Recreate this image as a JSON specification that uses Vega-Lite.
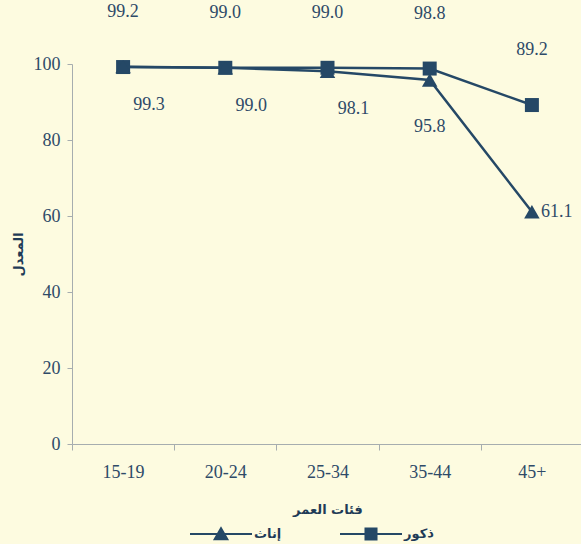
{
  "$schema": "https://vega.github.io/schema/vega-lite/v6.json",
  "autosize": {"type": "none"},
  "padding": {"left": 72, "top": 64, "right": 0, "bottom": 100},
  "width": 511,
  "height": 380,
  "background": "#FDFBE0",
  "config": {"view": {"stroke": null}},
  "data": {"values": [
    {"age": "15-19", "sex": "ذكور", "value": 99.2},
    {"age": "20-24", "sex": "ذكور", "value": 99.0},
    {"age": "25-34", "sex": "ذكور", "value": 99.0},
    {"age": "35-44", "sex": "ذكور", "value": 98.8},
    {"age": "45+", "sex": "ذكور", "value": 89.2},
    {"age": "15-19", "sex": "إناث", "value": 99.3},
    {"age": "20-24", "sex": "إناث", "value": 99.0},
    {"age": "25-34", "sex": "إناث", "value": 98.1},
    {"age": "35-44", "sex": "إناث", "value": 95.8},
    {"age": "45+", "sex": "إناث", "value": 61.1}
  ]},
  "encoding": {
    "x": {"field": "age", "type": "nominal", "sort": null,
      "scale": {"type": "band", "paddingInner": 0, "paddingOuter": 0},
      "axis": {"labelAngle": 0, "tickBand": "extent", "domainColor": "#A6ADAF", "tickColor": "#A6ADAF", "tickSize": 6,
        "labelFont": "Liberation Serif", "labelFontSize": 18, "labelColor": "#2E4A68", "labelPadding": 13,
        "title": "فئات العمر", "titleFont": "DejaVu Sans", "titleFontWeight": "bold", "titleFontSize": 13, "titleColor": "#1F3B57",
        "titleY": 65, "titleBaseline": "middle"}},
    "y": {"field": "value", "type": "quantitative",
      "scale": {"domain": [0, 100], "nice": false},
      "axis": {"values": [0, 20, 40, 60, 80, 100], "grid": false, "domainColor": "#A6ADAF", "tickColor": "#A6ADAF", "tickSize": 5,
        "labelFont": "Liberation Serif", "labelFontSize": 18, "labelColor": "#2E4A68", "labelPadding": 7,
        "title": "المعدل", "titleFont": "DejaVu Sans", "titleFontWeight": "bold", "titleFontSize": 13, "titleColor": "#1F3B57",
        "titleX": -54, "titleY": 190, "titleAngle": -90, "titleBaseline": "middle", "titleAlign": "center"}}
  },
  "layer": [
    {
      "mark": {"type": "line", "strokeWidth": 2.5},
      "encoding": {
        "color": {"field": "sex", "type": "nominal",
          "scale": {"domain": ["إناث", "ذكور"], "range": ["#254866", "#254866"]},
          "legend": {"orient": "none", "legendX": 118, "legendY": 439, "direction": "horizontal", "title": null,
            "symbolSize": 3844, "symbolStrokeWidth": 0, "labelFont": "DejaVu Sans", "labelFontWeight": "bold",
            "labelFontSize": 13, "labelColor": "#1F3B57", "columnPadding": 58, "labelOffset": 2,
            "encode": {"symbols": {"update": {
              "shape": {"signal": "datum.value === 'ذكور' ? 'M-1,-0.035H1V0.035H-1ZM-0.21,-0.21H0.21V0.21H-0.21Z' : 'M-1,-0.035H1V0.035H-1ZM0,-0.25L0.26,0.2H-0.26Z'"},
              "size": {"value": 3844},
              "fill": {"value": "#254866"}, "fillOpacity": {"value": 1}, "opacity": {"value": 1}}}}}}
      }
    },
    {
      "transform": [{"filter": "datum.sex === 'ذكور'"}],
      "mark": {"type": "point", "filled": true, "opacity": 1, "color": "#254866", "shape": "square", "size": 196}
    },
    {
      "transform": [{"filter": "datum.sex === 'إناث'"}],
      "mark": {"type": "point", "filled": true, "opacity": 1, "color": "#254866", "shape": "triangle-up", "size": 240}
    },
    {
      "transform": [{"filter": "datum.sex === 'ذكور'"}],
      "mark": {"type": "text", "dy": -55, "font": "Liberation Serif", "fontSize": 18, "color": "#2E4A68"},
      "encoding": {"text": {"field": "value", "type": "quantitative", "format": ".1f"}}
    },
    {
      "transform": [{"filter": "datum.sex === 'إناث' && indexof(['15-19','20-24','25-34'], datum.age) >= 0"}],
      "mark": {"type": "text", "dy": 38, "dx": 26, "font": "Liberation Serif", "fontSize": 18, "color": "#2E4A68"},
      "encoding": {"text": {"field": "value", "type": "quantitative", "format": ".1f"}}
    },
    {
      "transform": [{"filter": "datum.sex === 'إناث' && datum.age === '35-44'"}],
      "mark": {"type": "text", "dy": 47, "dx": 0, "font": "Liberation Serif", "fontSize": 18, "color": "#2E4A68"},
      "encoding": {"text": {"field": "value", "type": "quantitative", "format": ".1f"}}
    },
    {
      "transform": [{"filter": "datum.sex === 'إناث' && datum.age === '45+'"}],
      "mark": {"type": "text", "dx": 9, "align": "left", "font": "Liberation Serif", "fontSize": 18, "color": "#2E4A68"},
      "encoding": {"text": {"field": "value", "type": "quantitative", "format": ".1f"}}
    }
  ]
}
